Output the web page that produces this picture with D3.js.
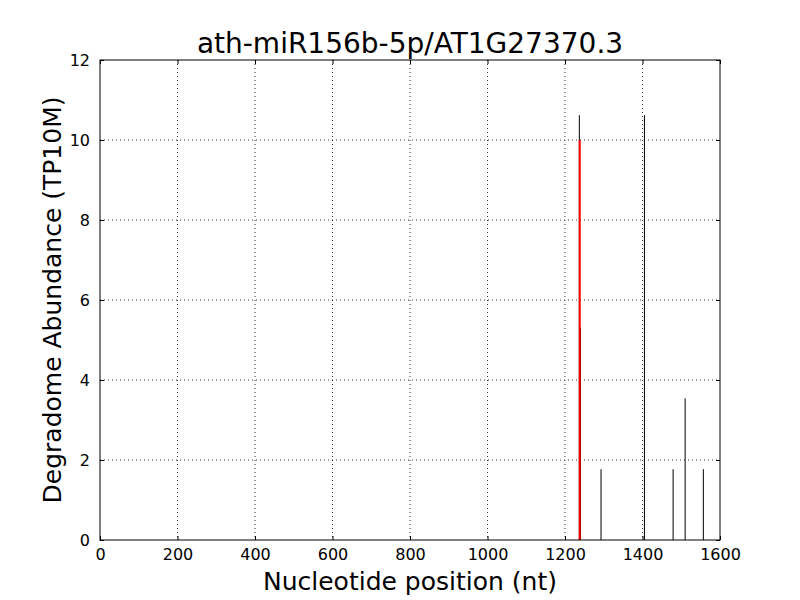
<!DOCTYPE html>
<html>
<head>
<meta charset="utf-8">
<script src="https://cdn.jsdelivr.net/npm/d3@7"></script>
<style>
  body { margin: 0; background: #fff; }
  svg text { font-family: "DejaVu Sans", sans-serif; fill: #000; }
  .grid line { stroke: #000; stroke-dasharray: 1,3; stroke-width: 0.8; }
</style>
</head>
<body>
<div class="chartContainer"></div>
<script>
// degradome reads: position (nt) and abundance (TP10M)
const positions = [1237, 1240, 1293, 1405, 1479, 1510, 1557];
const abundance = [10.62, 5.31, 1.77, 10.62, 1.77, 3.54, 1.77];
// miRNA cleavage site marker
const sitePositions = [1238];
const siteAbundance = [10];

const xTicks = [0, 200, 400, 600, 800, 1000, 1200, 1400, 1600];
const yTicks = [0, 2, 4, 6, 8, 10, 12];

const margin = { top: 60, right: 80, bottom: 60, left: 100 },
  width = 800 - margin.left - margin.right,
  height = 600 - margin.top - margin.bottom;

const x = d3.scaleLinear().domain([0, 1600]).range([0, width]);
const y = d3.scaleLinear().domain([0, 12]).range([height, 0]);

const svg = d3.select(".chartContainer")
  .append("svg")
  .attr("width", 800)
  .attr("height", 600);

const g = svg.append("g")
  .attr("transform", "translate(" + margin.left + "," + margin.top + ")");

// grid
g.append("g").attr("class", "grid")
  .selectAll("line").data(xTicks.slice(1, -1)).enter().append("line")
  .attr("x1", d => x(d)).attr("x2", d => x(d))
  .attr("y1", 0).attr("y2", height);
g.append("g").attr("class", "grid")
  .selectAll("line").data(yTicks.slice(1, -1)).enter().append("line")
  .attr("y1", d => y(d)).attr("y2", d => y(d))
  .attr("x1", 0).attr("x2", width);

// read bars
const reads = positions.map((p, i) => ({ pos: p, val: abundance[i] }));
g.selectAll(".read").data(reads).enter().append("line")
  .attr("class", "read")
  .attr("x1", d => x(d.pos)).attr("x2", d => x(d.pos))
  .attr("y1", y(0)).attr("y2", d => y(d.val))
  .attr("stroke", "#000").attr("stroke-width", 1);

const sites = sitePositions.map((p, i) => ({ pos: p, val: siteAbundance[i] }));
g.selectAll(".site").data(sites).enter().append("line")
  .attr("class", "site")
  .attr("x1", d => x(d.pos)).attr("x2", d => x(d.pos))
  .attr("y1", y(0)).attr("y2", d => y(d.val))
  .attr("stroke", "#ff0000").attr("stroke-width", 2);

// axes, ticks pointing inward on all sides
const fmt = d3.format("d");
const xAxis = d3.axisBottom(x).tickValues(xTicks).tickFormat(fmt).tickSizeInner(-4).tickSizeOuter(0).tickPadding(9);
const yAxis = d3.axisLeft(y).tickValues(yTicks).tickFormat(fmt).tickSizeInner(-4).tickSizeOuter(0).tickPadding(10);

g.append("g").attr("transform", "translate(0," + height + ")").call(xAxis);
g.append("g").call(yAxis);
g.append("g").call(d3.axisTop(x).tickValues(xTicks).tickSizeInner(-4).tickSizeOuter(0).tickFormat(""));
g.append("g").attr("transform", "translate(" + width + ",0)")
  .call(d3.axisRight(y).tickValues(yTicks).tickSizeInner(-4).tickSizeOuter(0).tickFormat(""));

g.selectAll(".domain").remove();
g.selectAll(".tick text").style("font-size", "16px").style("font-family", "DejaVu Sans");
g.selectAll(".tick line").attr("stroke", "#000");

g.append("rect")
  .attr("width", width).attr("height", height)
  .attr("fill", "none").attr("stroke", "#000").attr("stroke-width", 1);

// labels
svg.append("text")
  .attr("x", margin.left + width / 2).attr("y", 53)
  .attr("text-anchor", "middle").style("font-size", "28px")
  .text("ath-miR156b-5p/AT1G27370.3");

svg.append("text")
  .attr("x", margin.left + width / 2).attr("y", 590)
  .attr("text-anchor", "middle").style("font-size", "25px")
  .text("Nucleotide position (nt)");

svg.append("text")
  .attr("transform", "translate(61," + (margin.top + height / 2) + ") rotate(-90)")
  .attr("text-anchor", "middle").style("font-size", "25px")
  .text("Degradome Abundance (TP10M)");
</script>
</body>
</html>
